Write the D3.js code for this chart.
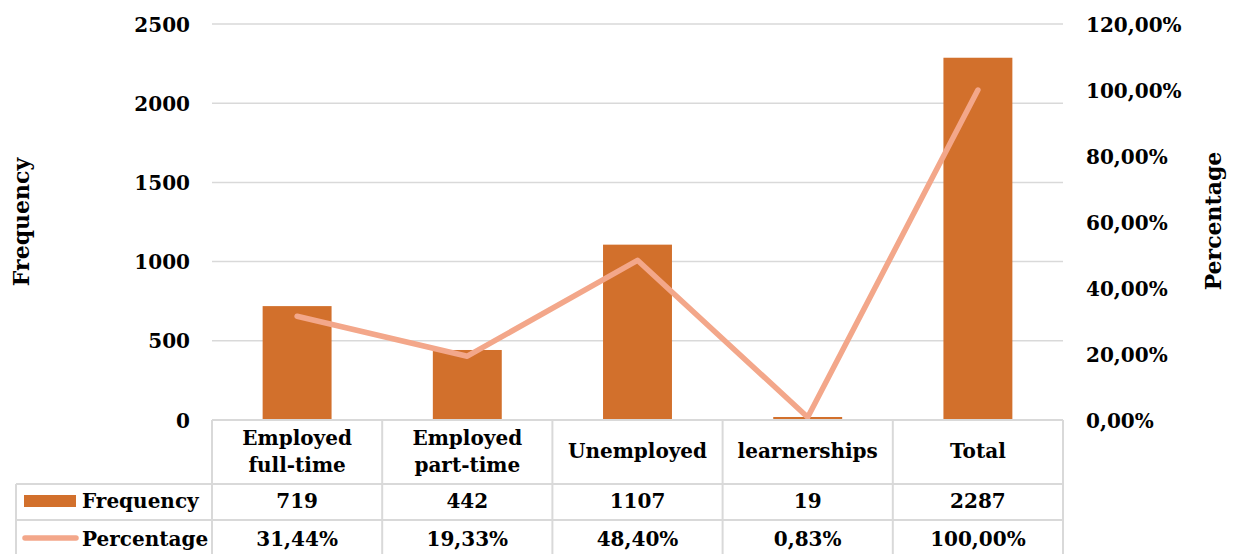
<!DOCTYPE html>
<html>
<head>
<meta charset="utf-8">
<script src="https://cdn.jsdelivr.net/npm/d3@7"></script>
<style>
  html, body { margin: 0; padding: 0; background: #fff; }
  svg text { font-family: "DejaVu Serif", serif; font-weight: bold; fill: #000; }
</style>
</head>
<body>
<svg id="chart" width="1240" height="554"></svg>
<script>
// Employment status of respondents
const categories = [["Employed", "full-time"], ["Employed", "part-time"], ["Unemployed"], ["learnerships"], ["Total"]];
const frequency = [719, 442, 1107, 19, 2287];
const percentage = [0.3144, 0.1933, 0.4840, 0.0083, 1.0000];
const freqTicks = [0, 500, 1000, 1500, 2000, 2500];
const pctTicks = [0, 0.2, 0.4, 0.6, 0.8, 1.0, 1.2];

const barColor = "#D2702C";
const lineColor = "#F3A78A";
const gridColor = "#D9D9D9";
const fontSize = 20;

const svg = d3.select("#chart");
const plot = { left: 212, right: 1063, top: 24, bottom: 420 };
const keys = categories.map((c, i) => i);

const x = d3.scaleBand().domain(keys).range([plot.left, plot.right]).paddingInner(0.595).paddingOuter(0.2975);
const xCol = d3.scaleBand().domain(keys).range([plot.left, plot.right]);
const yL = d3.scaleLinear().domain([0, 2500]).range([plot.bottom, plot.top]);
const yR = d3.scaleLinear().domain([0, 1.2]).range([plot.bottom, plot.top]);

const fmtPct = v => d3.format(".2f")(v * 100).replace(".", ",") + "%";

// gridlines
svg.append("g").selectAll("line").data(freqTicks.slice(1)).join("line")
  .attr("x1", plot.left).attr("x2", plot.right)
  .attr("y1", d => yL(d)).attr("y2", d => yL(d))
  .attr("stroke", gridColor).attr("stroke-width", 1.5);

// left axis
const axL = svg.append("g").attr("transform", `translate(${plot.left - 22},0)`)
  .call(d3.axisLeft(yL).tickValues(freqTicks).tickSize(0).tickPadding(0).tickFormat(d3.format("d")));
axL.select(".domain").remove();
axL.selectAll("text").attr("font-size", fontSize).attr("dy", "0.35em");

// right axis
const axR = svg.append("g").attr("transform", `translate(${plot.right + 23},0)`)
  .call(d3.axisRight(yR).tickValues(pctTicks).tickSize(0).tickPadding(0).tickFormat(fmtPct));
axR.select(".domain").remove();
axR.selectAll("text").attr("font-size", fontSize).attr("dy", "0.35em");

// axis titles
svg.append("text").attr("transform", "translate(29,222) rotate(-90)")
  .attr("text-anchor", "middle").attr("font-size", 22).text("Frequency");
svg.append("text").attr("transform", "translate(1221,221) rotate(-90)")
  .attr("text-anchor", "middle").attr("font-size", 22).text("Percentage");

// bars
svg.append("g").selectAll("rect").data(frequency).join("rect")
  .attr("x", (d, i) => x(i)).attr("width", x.bandwidth())
  .attr("y", d => yL(d)).attr("height", d => yL(0) - yL(d))
  .attr("fill", barColor);

// percentage line
const line = d3.line().x((d, i) => xCol(i) + xCol.bandwidth() / 2).y(d => yR(d));
svg.append("path").datum(percentage).attr("d", line)
  .attr("fill", "none").attr("stroke", lineColor).attr("stroke-width", 5.5)
  .attr("stroke-linecap", "round").attr("stroke-linejoin", "round");

// data table
const tbl = { legendLeft: 16, rowTop: 420, row1: 484, row2: 520, bottom: 560 };
const tg = svg.append("g").attr("stroke", gridColor).attr("stroke-width", 2);
tg.append("line").attr("x1", plot.left).attr("x2", plot.right).attr("y1", tbl.rowTop).attr("y2", tbl.rowTop);
tg.append("line").attr("x1", tbl.legendLeft).attr("x2", plot.right).attr("y1", tbl.row1).attr("y2", tbl.row1);
tg.append("line").attr("x1", tbl.legendLeft).attr("x2", plot.right).attr("y1", tbl.row2).attr("y2", tbl.row2);
tg.append("line").attr("x1", tbl.legendLeft).attr("x2", tbl.legendLeft).attr("y1", tbl.row1).attr("y2", tbl.bottom);
tg.selectAll("line.col").data(d3.range(keys.length + 1)).join("line").attr("class", "col")
  .attr("x1", i => plot.left + i * xCol.step()).attr("x2", i => plot.left + i * xCol.step())
  .attr("y1", tbl.rowTop).attr("y2", tbl.bottom);

// header cells
const hdr = svg.append("g").selectAll("text").data(categories).join("text")
  .attr("text-anchor", "middle").attr("font-size", fontSize)
  .attr("x", (d, i) => xCol(i) + xCol.bandwidth() / 2)
  .attr("y", d => d.length > 1 ? 445 : 458);
hdr.selectAll("tspan").data(d => d).join("tspan")
  .attr("x", function () { return this.parentNode.getAttribute("x"); })
  .attr("dy", (d, j) => j === 0 ? 0 : 27).text(d => d);

// value rows
svg.append("g").selectAll("text").data(frequency).join("text")
  .attr("text-anchor", "middle").attr("font-size", fontSize)
  .attr("x", (d, i) => xCol(i) + xCol.bandwidth() / 2).attr("y", 508).text(d => d);
svg.append("g").selectAll("text").data(percentage).join("text")
  .attr("text-anchor", "middle").attr("font-size", fontSize)
  .attr("x", (d, i) => xCol(i) + xCol.bandwidth() / 2).attr("y", 546).text(d => fmtPct(d));

// legend keys in table
svg.append("rect").attr("x", 24).attr("y", 495).attr("width", 52).attr("height", 12).attr("fill", barColor);
svg.append("text").attr("x", 82).attr("y", 508).attr("font-size", fontSize).text("Frequency");
svg.append("line").attr("x1", 25).attr("x2", 76).attr("y1", 538).attr("y2", 538)
  .attr("stroke", lineColor).attr("stroke-width", 5.5).attr("stroke-linecap", "round");
svg.append("text").attr("x", 82).attr("y", 546).attr("font-size", fontSize).text("Percentage");
</script>
</body>
</html>
